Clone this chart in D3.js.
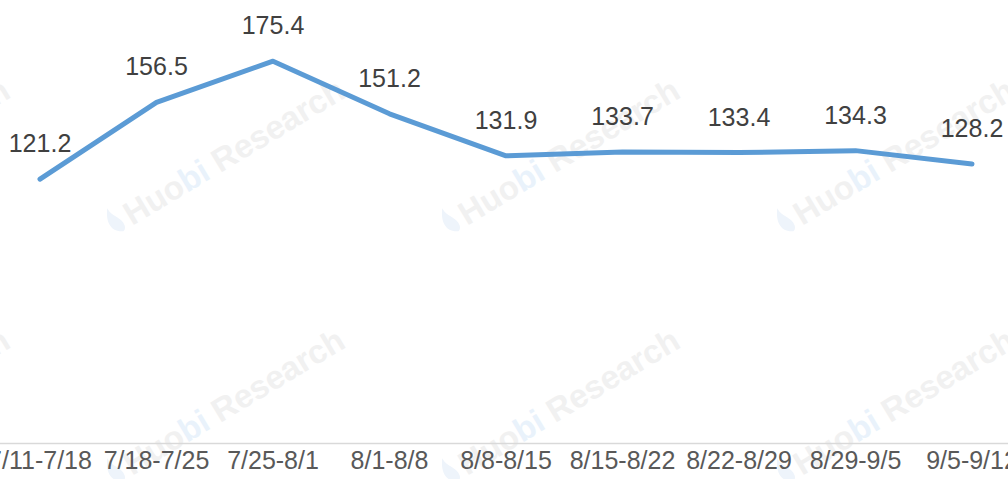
<!DOCTYPE html>
<html>
<head>
<meta charset="utf-8">
<script src="https://cdn.jsdelivr.net/npm/d3@7"></script>
<style>
  body { margin: 0; background: #fff; }
  svg { display: block; }
</style>
</head>
<body>
<svg id="chart" width="1008" height="479"></svg>
<script>
const weeks = ['7/11-7/18', '7/18-7/25', '7/25-8/1', '8/1-8/8', '8/8-8/15', '8/15-8/22', '8/22-8/29', '8/29-9/5', '9/5-9/12']
const values = [121.2, 156.5, 175.4, 151.2, 131.9, 133.7, 133.4, 134.3, 128.2]

const width = 1008
const height = 479
const baseY = 443
const step = 116.5

const svg = d3.select('#chart')

// faint watermark grid
const marks = []
for (let r = 0; r < 2; r++) {
  for (let c = -1; c < 3; c++) {
    marks.push({x: 132 + c * 335, y: 226 + r * 250})
  }
}
const wm = svg.append('g').attr('class', 'watermark')
marks.forEach(m => {
  const g = wm.append('g')
    .attr('transform', 'translate(' + m.x + ',' + m.y + ') rotate(-31)')
  // little flame logo
  g.append('path')
    .attr('d', 'M-10,0 C-22,-6 -20,-18 -12,-28 C-13,-18 -4,-14 -6,-4 C-7,-1 -9,0 -10,0 Z')
    .attr('fill', '#eef4fb')
  const t = g.append('text')
    .attr('font-family', 'Liberation Sans, Arial, sans-serif')
    .attr('font-size', 33)
    .attr('font-weight', 'bold')
    .attr('fill', '#f1f1f1')
  t.append('tspan').text('Huo')
  t.append('tspan').attr('fill', '#e9f2fb').text('bi')
  t.append('tspan').text(' Research')
})

const xScale = d3.scaleBand()
  .domain(weeks)
  .range([40 - step / 2, 40 + step * (weeks.length - 0.5)])
  .padding(0)

const yScale = d3.scaleLinear()
  .domain([0, 200])
  .range([baseY, baseY - 435.4])

const cx = d => xScale(d) + xScale.bandwidth() / 2

const xAxis = d3.axisBottom(xScale)
  .tickSizeInner(0)
  .tickSizeOuter(0)
  .tickPadding(8)

const ax = svg.append('g')
  .attr('transform', 'translate(0,' + baseY + ')')
  .call(xAxis)
ax.select('.domain').attr('stroke', '#d9d9d9').attr('stroke-width', 1.5)
ax.selectAll('text')
  .attr('font-family', 'Liberation Sans, Arial, sans-serif')
  .attr('font-size', 25)
  .attr('fill', '#595959')

const line = d3.line()
  .x((d, i) => cx(weeks[i]))
  .y(d => yScale(d))

svg.append('path')
  .datum(values)
  .attr('d', line)
  .attr('fill', 'none')
  .attr('stroke', '#5b9bd5')
  .attr('stroke-width', 5)
  .attr('stroke-linejoin', 'round')
  .attr('stroke-linecap', 'round')

svg.selectAll('text.label')
  .data(values)
  .enter()
  .append('text')
  .attr('class', 'label')
  .attr('x', (d, i) => cx(weeks[i]))
  .attr('y', d => yScale(d) - 27)
  .attr('text-anchor', 'middle')
  .attr('font-family', 'Liberation Sans, Arial, sans-serif')
  .attr('font-size', 25)
  .attr('fill', '#404040')
  .text(d => d.toFixed(1))
</script>
</body>
</html>
